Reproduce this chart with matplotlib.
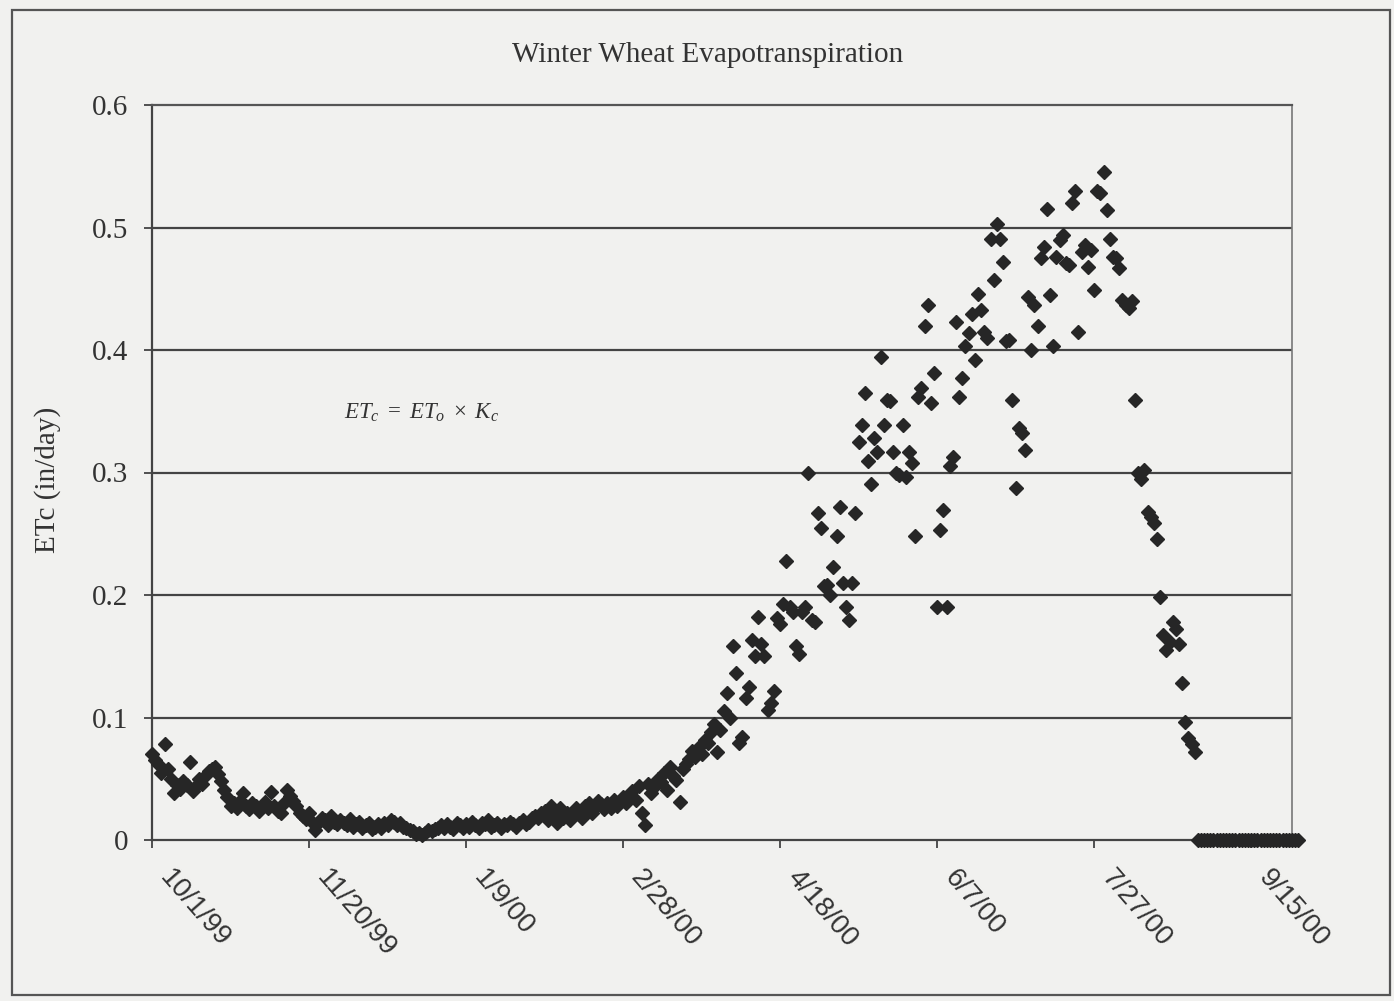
import numpy as np
import matplotlib
matplotlib.use("Agg")
import matplotlib.pyplot as plt
import matplotlib.dates as mdates
from matplotlib.patches import Rectangle
from matplotlib.transforms import ScaledTranslation

# ---- data (daily ETc, in/day), 10/1/1999 .. 9/30/2000 ----
start_date = "1999-10-01"
oct99 = [0.070, 0.065, 0.062, 0.055, 0.078, 0.058, 0.050, 0.038, 0.045, 0.042, 0.048, 0.045, 0.064, 0.040, 0.044, 0.050,
         0.046, 0.052, 0.056, 0.058, 0.060, 0.054, 0.048, 0.041, 0.035, 0.028, 0.030, 0.026, 0.032, 0.038, 0.028]
nov99 = [0.025, 0.030, 0.028, 0.024, 0.027, 0.031, 0.026, 0.039, 0.028, 0.024, 0.022, 0.030, 0.041, 0.036, 0.032, 0.028,
         0.022, 0.020, 0.017, 0.022, 0.015, 0.008, 0.014, 0.018, 0.016, 0.012, 0.020, 0.015, 0.013, 0.016]
dec99 = [0.014, 0.012, 0.017, 0.011, 0.013, 0.015, 0.010, 0.012, 0.014, 0.009, 0.011, 0.013, 0.010, 0.014, 0.012, 0.016,
         0.015, 0.012, 0.014, 0.011, 0.010, 0.008, 0.007, 0.005, 0.006, 0.004, 0.006, 0.008, 0.007, 0.009, 0.010]
jan00 = [0.012, 0.010, 0.013, 0.011, 0.009, 0.014, 0.012, 0.010, 0.013, 0.011, 0.015, 0.012, 0.010, 0.014, 0.013, 0.016,
         0.011, 0.012, 0.014, 0.010, 0.013, 0.012, 0.015, 0.013, 0.011, 0.014, 0.016, 0.013, 0.015, 0.018, 0.020]
feb00 = [0.018, 0.022, 0.024, 0.016, 0.028, 0.020, 0.014, 0.026, 0.018, 0.022, 0.016, 0.020, 0.026, 0.024, 0.018, 0.028,
         0.030, 0.022, 0.027, 0.032, 0.029, 0.025, 0.030, 0.026, 0.033, 0.028, 0.031, 0.035, 0.030]
mar00 = [0.036, 0.040, 0.033, 0.044, 0.022, 0.012, 0.046, 0.038, 0.043, 0.050, 0.047, 0.055, 0.041, 0.060, 0.052, 0.049,
         0.031, 0.058, 0.062, 0.066, 0.073, 0.068, 0.075, 0.070, 0.082, 0.079, 0.088, 0.095, 0.072, 0.090, 0.105]
apr00 = [0.120, 0.100, 0.158, 0.136, 0.079, 0.084, 0.116, 0.125, 0.163, 0.150, 0.182, 0.160, 0.150, 0.106, 0.112, 0.122,
         0.181, 0.176, 0.193, 0.228, 0.190, 0.186, 0.158, 0.152, 0.186, 0.190, 0.300, 0.180, 0.178, 0.267]
may00 = [0.255, 0.207, 0.208, 0.200, 0.223, 0.248, 0.272, 0.210, 0.190, 0.180, 0.210, 0.267, 0.325, 0.339, 0.365, 0.309,
         0.291, 0.328, 0.317, 0.394, 0.339, 0.359, 0.358, 0.317, 0.300, 0.298, 0.339, 0.296, 0.317, 0.308, 0.248]
jun00 = [0.362, 0.369, 0.420, 0.437, 0.357, 0.381, 0.190, 0.253, 0.269, 0.190, 0.305, 0.313, 0.423, 0.362, 0.377, 0.403,
         0.414, 0.429, 0.392, 0.446, 0.433, 0.415, 0.410, 0.491, 0.457, 0.503, 0.491, 0.472, 0.407, 0.408]
jul00 = [0.359, 0.287, 0.336, 0.332, 0.318, 0.443, 0.400, 0.437, 0.420, 0.475, 0.484, 0.515, 0.445, 0.403, 0.476, 0.490,
         0.494, 0.471, 0.469, 0.520, 0.530, 0.415, 0.480, 0.486, 0.468, 0.482, 0.449, 0.530, 0.528, 0.545, 0.514]
aug00 = [0.491, 0.476, 0.475, 0.467, 0.441, 0.437, 0.434, 0.440, 0.359, 0.300, 0.295, 0.302, 0.268, 0.264, 0.259, 0.246,
         0.198, 0.167, 0.155, 0.162, 0.178, 0.172, 0.160, 0.128, 0.096, 0.083, 0.078, 0.072, 0.000, 0.000, 0.000]
sep00 = [0.000, 0.000, 0.000, 0.000, 0.000, 0.000, 0.000, 0.000, 0.000, 0.000, 0.000, 0.000, 0.000, 0.000, 0.000,
         0.000, 0.000, 0.000, 0.000, 0.000, 0.000, 0.000, 0.000, 0.000, 0.000, 0.000, 0.000, 0.000, 0.000, 0.000]

tick_dates = ["1999-10-01", "1999-11-20", "2000-01-09", "2000-02-28", "2000-04-18", "2000-06-07", "2000-07-27", "2000-09-15"]
tick_labels = ["10/1/99", "11/20/99", "1/9/00", "2/28/00", "4/18/00", "6/7/00", "7/27/00", "9/15/00"]
y_ticks = [0, 0.1, 0.2, 0.3, 0.4, 0.5, 0.6]
y_ticklabels = ["0", "0.1", "0.2", "0.3", "0.4", "0.5", "0.6"]
title = "Winter Wheat Evapotranspiration"
ylabel = "ETc (in/day)"
x_end = "2000-09-28"

etc = np.array(oct99 + nov99 + dec99 + jan00 + feb00 + mar00 + apr00 + may00 + jun00 + jul00 + aug00 + sep00)
dates = np.datetime64(start_date) + np.arange(len(etc)).astype("timedelta64[D]")

# ---- figure ----
W, H = 1394, 1001
bg = "#f1f1ef"
fig = plt.figure(figsize=(W / 100, H / 100), dpi=100, facecolor=bg)
fig.patches.append(Rectangle((12 / W, 1 - 995 / H), (1390 - 12) / W, (995 - 10) / H, transform=fig.transFigure,
                             fill=False, edgecolor="#555555", linewidth=1.6))

ax = fig.add_axes([152 / W, 1 - 840 / H, (1292 - 152) / W, (840 - 105) / H])
ax.set_facecolor(bg)

serif = ["Liberation Serif", "DejaVu Serif"]
sans = ["Liberation Sans", "DejaVu Sans"]

ax.plot(dates, etc, linestyle="none", marker="D", markersize=6.8, color="#262626",
        markeredgecolor="#262626", clip_on=False, zorder=3)

ax.set_ylim(0, 0.6)
ax.set_xlim(np.datetime64(start_date), np.datetime64(x_end))
ax.set_yticks(y_ticks)
ax.set_yticklabels(y_ticklabels, fontfamily=serif, fontsize=21, color="#333333")
ax.set_xticks([mdates.date2num(np.datetime64(d)) for d in tick_dates])
ax.set_xticklabels(tick_labels, fontfamily=sans, fontsize=20, color="#333333",
                   rotation=-49, rotation_mode="anchor", ha="left", va="center")
ax.tick_params(axis="x", direction="out", length=6, width=1.3, color="#444444", pad=18)
ax.tick_params(axis="y", direction="out", length=6, width=1.3, color="#444444", pad=11)

offset = ScaledTranslation(12 / 100, 0, fig.dpi_scale_trans)
for lab in ax.get_xticklabels():
    lab.set_transform(lab.get_transform() + offset)

for v in y_ticks[1:6]:
    ax.axhline(v, color="#444444", linewidth=1.6, zorder=1)

for s in ["left", "bottom"]:
    ax.spines[s].set_color("#444444")
    ax.spines[s].set_linewidth(1.6)
ax.spines["top"].set_color("#555555")
ax.spines["top"].set_linewidth(1.6)
ax.spines["right"].set_color("#777777")
ax.spines["right"].set_linewidth(1.2)

fig.text(708 / W, 1 - 55 / H, title, fontfamily=serif, fontsize=21, color="#333333", ha="center", va="center")
fig.text(48 / W, 1 - 480 / H, ylabel, fontfamily=serif, fontsize=21, color="#333333", ha="center", va="center",
         rotation=90)

plt.rcParams["mathtext.fontset"] = "custom"
plt.rcParams["mathtext.it"] = "Liberation Serif:italic"
plt.rcParams["mathtext.rm"] = "Liberation Serif"
fig.text(422 / W, 1 - 412 / H, r"$ET_c\ =\ ET_o\ \times\ K_c$", fontsize=16.5, color="#333333",
         ha="center", va="center")

fig.savefig("out.png", dpi=100, facecolor=bg)
